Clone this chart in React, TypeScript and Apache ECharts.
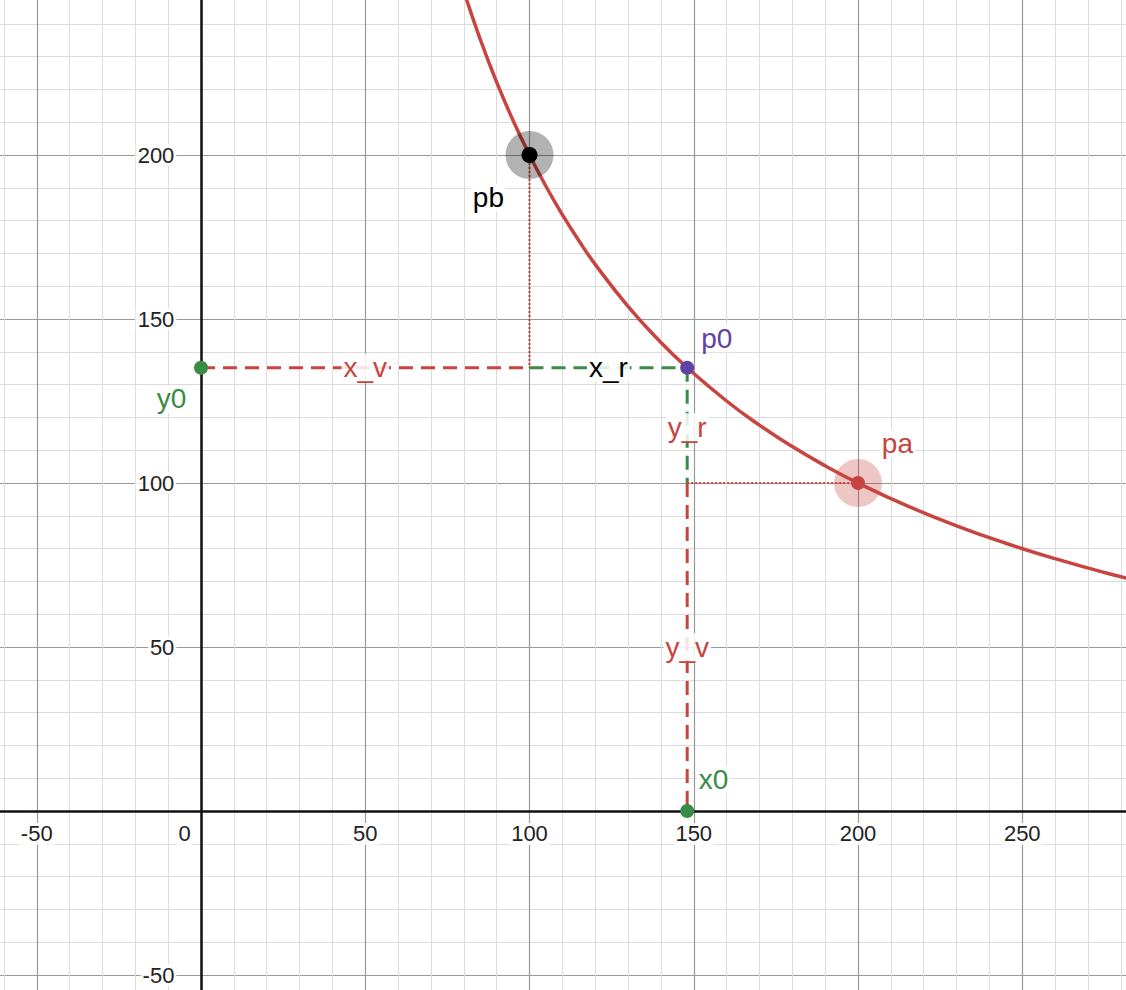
import React, { useEffect, useRef } from 'react';
import * as echarts from 'echarts';

const K = 20000;
const X0 = 148;
const Y0 = K / X0;
const curveXs = [70, 75, 80, 85, 90, 95, 100, 105, 110, 115, 120, 130, 140, 148, 160, 170, 180, 190, 200, 215, 230, 245, 260, 275, 290];
const xTickValues = [-50, 0, 50, 100, 150, 200, 250];
const xTickLabels = ['-50', '0', '50', '100', '150', '200', '250'];
const yTickValues = [-50, 50, 100, 150, 200];
const yTickLabels = ['-50', '50', '100', '150', '200'];

const RED = '#c74440';
const GREEN = '#388c46';
const PURPLE = '#6042a6';

const App: React.FC = () => {
  const ref = useRef<HTMLDivElement>(null);

  useEffect(() => {
    document.body.style.margin = '0';
    const chart = echarts.init(ref.current!, undefined, { renderer: 'svg' });
    const seg = (data: number[][], color: string, type: any, width: number) => ({
      type: 'line', data, symbol: 'none', z: 3,
      lineStyle: { color, type, width },
    });
    const pt = (x: number, y: number, color: string, size: number, halo?: string) => [
      ...(halo ? [{ type: 'scatter', data: [[x, y]], symbolSize: 48, itemStyle: { color: halo, opacity: 1 }, z: 4 }] : []),
      { type: 'scatter', data: [[x, y]], symbolSize: size, itemStyle: { color, opacity: 1 }, z: 5 },
    ];
    const txt = (x: number, y: number, s: string, color: string, size = 28, align = 'center') => ({
      type: 'scatter', data: [[x, y]], symbolSize: 0, z: 6, silent: true,
      itemStyle: { opacity: 1 },
      label: {
        show: true, position: 'inside', formatter: s, color, fontSize: size, align,
        fontFamily: 'Arial, Liberation Sans, sans-serif', backgroundColor: 'rgba(255,255,255,0.85)', padding: [0, 2],
      },
    });
    const axisCommon = {
      type: 'value', interval: 50,
      axisLine: { onZero: true, lineStyle: { color: '#111', width: 2.5 } },
      axisTick: { show: false },
      axisLabel: { show: false },
      splitLine: { lineStyle: { color: '#999', width: 1.2 } },
      minorTick: { show: true, splitNumber: 5, length: 0 },
      minorSplitLine: { show: true, lineStyle: { color: '#dcdcdc', width: 1 } },
    };
    chart.setOption({
      animation: false,
      grid: {
        left: 201 - 100 * 3.285, width: 400 * 3.285, top: 811 - 250 * 3.28, height: 350 * 3.28,
        containLabel: false, outerBoundsMode: 'none',
      },
      xAxis: { ...axisCommon, min: -100, max: 300 },
      yAxis: { ...axisCommon, min: -100, max: 250 },
      series: [
        { type: 'line', data: curveXs.map(x => [x, K / x]), smooth: true, symbol: 'none', lineStyle: { color: RED, width: 3.5 }, z: 3 },
        seg([[0, Y0], [100, Y0]], RED, [14, 8], 3),
        seg([[100, Y0], [X0, Y0]], GREEN, [14, 8], 3),
        seg([[X0, Y0], [X0, 100]], GREEN, [14, 8], 3),
        seg([[X0, 100], [X0, 0]], RED, [14, 8], 3),
        seg([[100, 200], [100, Y0]], RED, [2, 2], 2),
        seg([[X0, 100], [200, 100]], RED, [2, 2], 2),
        ...pt(100, 200, '#000', 16, 'rgba(0,0,0,0.3)'),
        ...pt(200, 100, RED, 14, 'rgba(199,68,64,0.3)'),
        ...pt(X0, Y0, PURPLE, 14),
        ...pt(0, Y0, GREEN, 14),
        ...pt(X0, 0, GREEN, 14),
        ...xTickValues.map((v, i) => txt(v === 0 ? -5 : v, -7, xTickLabels[i], '#222', 22)),
        ...yTickValues.map((v, i) => txt(-7.5, v, yTickLabels[i], '#222', 22, 'right')),
        txt(50, Y0, 'x_v', RED),
        txt(124, Y0, 'x_r', '#000'),
        txt(157, Y0 + 9, 'p0', PURPLE),
        txt(-9, Y0 - 9.5, 'y0', GREEN),
        txt(87.5, 187, 'pb', '#000'),
        txt(212, 112, 'pa', RED),
        txt(X0, 117, 'y_r', RED),
        txt(X0, 50, 'y_v', RED),
        txt(156, 9.5, 'x0', GREEN),
      ],
    });
    return () => chart.dispose();
  }, []);

  return <div ref={ref} style={{ width: 1126, height: 990 }} />;
};

export default App;
